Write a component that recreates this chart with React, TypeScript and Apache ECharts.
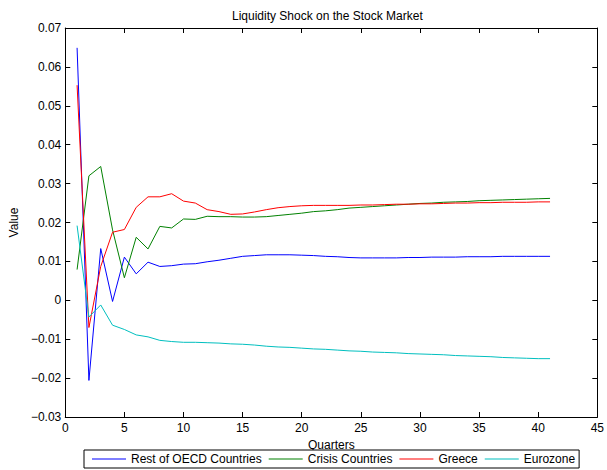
import React, { useEffect, useRef } from "react";
import * as echarts from "echarts";

const quarters: number[] = Array.from({ length: 41 }, (_, i) => i + 1);

const restOfOECD: number[] = [
  0.0649, -0.0206, 0.0133, -0.0003, 0.0111, 0.0068, 0.0098, 0.0087, 0.0089, 0.0093,
  0.0094, 0.0099, 0.0103, 0.0108, 0.0113, 0.0115, 0.0117, 0.0117, 0.0117, 0.0116,
  0.0115, 0.0113, 0.0112, 0.011, 0.0109, 0.0109, 0.0109, 0.0109, 0.011, 0.011,
  0.0111, 0.0111, 0.0111, 0.0112, 0.0112, 0.0112, 0.0113, 0.0113, 0.0113, 0.0113,
  0.0113,
];

const crisisCountries: number[] = [
  0.0079, 0.032, 0.0344, 0.0181, 0.0058, 0.0162, 0.0132, 0.019, 0.0186, 0.0209,
  0.0208, 0.0216, 0.0215, 0.0215, 0.0214, 0.0214, 0.0215, 0.0218, 0.0221, 0.0224,
  0.0228, 0.023, 0.0233, 0.0237, 0.0239, 0.0241, 0.0243, 0.0245, 0.0247, 0.0249,
  0.025, 0.0252, 0.0253, 0.0254, 0.0256, 0.0257, 0.0258, 0.0259, 0.026, 0.0261,
  0.0262,
];

const greece: number[] = [
  0.0553, -0.007, 0.0087, 0.0175, 0.0182, 0.0239, 0.0266, 0.0266, 0.0274, 0.0255,
  0.025, 0.0233, 0.0228, 0.0221, 0.0222, 0.0227, 0.0233, 0.0238, 0.0241, 0.0243,
  0.0244, 0.0244, 0.0244, 0.0244, 0.0245, 0.0245, 0.0246, 0.0247, 0.0247, 0.0248,
  0.0248, 0.0249, 0.025, 0.025, 0.0251, 0.0251, 0.0252, 0.0252, 0.0252, 0.0253,
  0.0253,
];

const eurozone: number[] = [
  0.0192, -0.0043, -0.0012, -0.0064, -0.0075, -0.0089, -0.0094, -0.0103, -0.0106, -0.0108,
  -0.0108, -0.0109, -0.011, -0.0112, -0.0113, -0.0115, -0.0118, -0.012, -0.0121, -0.0123,
  -0.0125, -0.0126, -0.0128, -0.013, -0.0131, -0.0133, -0.0134, -0.0135, -0.0137, -0.0138,
  -0.0139, -0.014, -0.0142, -0.0143, -0.0144, -0.0145, -0.0147, -0.0148, -0.0149, -0.015,
  -0.015,
];

const seriesNames: string[] = ["Rest of OECD Countries", "Crisis Countries", "Greece", "Eurozone"];
const seriesColors: string[] = ["#0000ff", "#008000", "#ff0000", "#00bfbf"];
const seriesValues: number[][] = [restOfOECD, crisisCountries, greece, eurozone];

const FONT = "'Liberation Sans', Arial, Helvetica, sans-serif";

export default function App() {
  const ref = useRef<HTMLDivElement>(null);

  useEffect(() => {
    if (!ref.current) return;
    const chart = echarts.init(ref.current, undefined, { renderer: "svg" });

    const axisCommon = {
      axisLine: { show: true, onZero: false, lineStyle: { color: "#000", width: 1 } },
      axisTick: { show: true, inside: true, length: 5, lineStyle: { color: "#000", width: 1 } },
      splitLine: { show: false },
    };

    const yFmt = (v: number) => {
      if (Math.abs(v) < 1e-9) return "0";
      return (v < 0 ? "\u2212" : "") + Math.abs(v).toFixed(2);
    };

    chart.setOption({
      animation: false,
      backgroundColor: "#fff",
      textStyle: { fontFamily: FONT },
      title: {
        text: "Liquidity Shock on the Stock Market",
        left: 232,
        top: 10,
        padding: 0,
        textStyle: { fontFamily: FONT, fontSize: 12, fontWeight: "normal", color: "#000" },
      },
      grid: { left: 63.5, right: 6, top: 28, bottom: 53, containLabel: false },
      xAxis: [
        {
          type: "value",
          position: "bottom",
          min: 0,
          max: 45,
          interval: 5,
          name: "Quarters",
          nameLocation: "middle",
          nameGap: 21,
          nameTextStyle: { fontFamily: FONT, fontSize: 12, lineHeight: 12, color: "#000" },
          axisLabel: { fontFamily: FONT, fontSize: 12, color: "#000", margin: 5 },
          ...axisCommon,
        },
        {
          type: "value",
          position: "top",
          min: 0,
          max: 45,
          interval: 5,
          axisLabel: { show: false },
          ...axisCommon,
        },
      ],
      yAxis: [
        {
          type: "value",
          position: "left",
          min: -0.03,
          max: 0.07,
          interval: 0.01,
          name: "Value",
          nameLocation: "middle",
          nameGap: 42,
          nameTextStyle: { fontFamily: FONT, fontSize: 12, color: "#000" },
          axisLabel: { fontFamily: FONT, fontSize: 12, color: "#000", margin: 4, formatter: yFmt },
          ...axisCommon,
        },
        {
          type: "value",
          position: "right",
          min: -0.03,
          max: 0.07,
          interval: 0.01,
          axisLabel: { show: false },
          ...axisCommon,
        },
      ],
      legend: {
        left: 84,
        top: 450,
        orient: "horizontal",
        icon: "rect",
        itemWidth: 34,
        itemHeight: 1,
        itemGap: 7,
        padding: [2, 4, 2, 8],
        borderColor: "#000",
        borderWidth: 1,
        borderRadius: 0,
        backgroundColor: "#fff",
        textStyle: { fontFamily: FONT, fontSize: 12, lineHeight: 14, color: "#000" },
        data: seriesNames.map((name, i) => ({
          name,
          icon: "rect",
          itemStyle: { color: seriesColors[i], borderWidth: 0 },
        })),
      },
      series: seriesNames.map((name, i) => ({
        name,
        type: "line",
        xAxisIndex: 0,
        yAxisIndex: 0,
        symbol: "none",
        showSymbol: false,
        color: seriesColors[i],
        lineStyle: { color: seriesColors[i], width: 1 },
        data: quarters.map((q, k) => [q, seriesValues[i][k]]),
      })),
    });

    return () => chart.dispose();
  }, []);

  return (
    <div
      ref={ref}
      style={{ position: "fixed", left: 0, top: 0, width: 607, height: 470, background: "#fff" }}
    />
  );
}
